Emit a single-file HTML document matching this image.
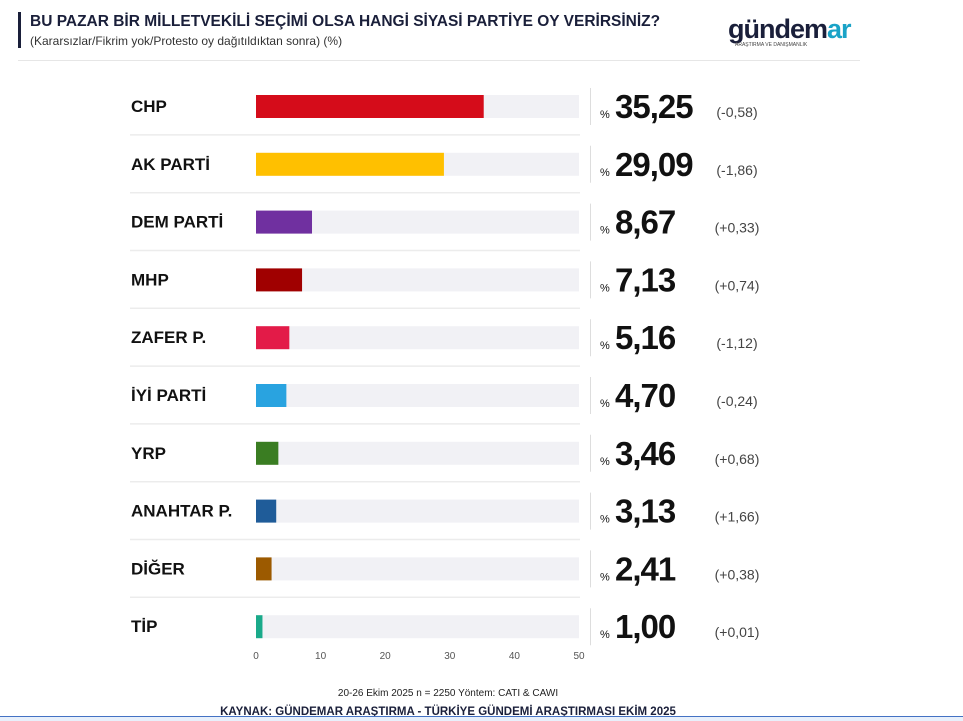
<!DOCTYPE html>
<html><head><meta charset="utf-8"><style>
body{margin:0;background:#fff;}
svg{display:block;font-family:"Liberation Sans",sans-serif;}
</style></head><body>
<svg id="c" width="963" height="721">
<rect x="18" y="12" width="3" height="36" fill="#1a1f3a"/>
<text x="30" y="26" font-size="15.5" font-weight="bold" fill="#1a1f3a">BU PAZAR BİR MİLLETVEKİLİ SEÇİMİ OLSA HANGİ SİYASİ PARTİYE OY VERİRSİNİZ?</text>
<text x="30" y="45" font-size="12" fill="#333">(Kararsızlar/Fikrim yok/Protesto oy dağıtıldıktan sonra) (%)</text>
<text x="728" y="38" font-size="27" font-weight="bold" fill="#1a1f3a" letter-spacing="-1">gündem<tspan fill="#1aa3c7">ar</tspan></text>
<text x="735" y="46" font-size="5" fill="#444">ARAŞTIRMA VE DANIŞMANLIK</text>
<line x1="18" y1="60.5" x2="860" y2="60.5" stroke="#e6e6e6"/>
<g id="rows"></g>
<g id="ticks"></g>
<text x="448" y="696" font-size="10" fill="#222" text-anchor="middle">20-26 Ekim 2025 n = 2250 Yöntem: CATI &amp; CAWI</text>
<text x="448" y="715" font-size="11.5" font-weight="bold" fill="#1a1f3a" text-anchor="middle">KAYNAK: GÜNDEMAR ARAŞTIRMA - TÜRKİYE GÜNDEMİ ARAŞTIRMASI EKİM 2025</text>
<rect x="0" y="716" width="963" height="5" fill="#e8f0fb"/>
<line x1="0" y1="716.5" x2="963" y2="716.5" stroke="#4472c4"/>
</svg>
<script>
const parties=["CHP","AK PARTİ","DEM PARTİ","MHP","ZAFER P.","İYİ PARTİ","YRP","ANAHTAR P.","DİĞER","TİP"];
const values=[35.25,29.09,8.67,7.13,5.16,4.70,3.46,3.13,2.41,1.00];
const changes=["(-0,58)","(-1,86)","(+0,33)","(+0,74)","(-1,12)","(-0,24)","(+0,68)","(+1,66)","(+0,38)","(+0,01)"];
const colors=["#d50c1a","#ffc000","#7030a0","#a00000","#e31b48","#29a3e0","#3a7d22","#1f5c99","#9c5a00","#1aaa8a"];
const ticks=[0,10,20,30,40,50];
const NS="http://www.w3.org/2000/svg";
const x0=256,x1=579,xmax=50;
const xs=v=>x0+(x1-x0)*v/xmax;
const y0=106,step=57.8;
const ys=i=>y0+i*step;
function mk(tag,attrs,parent,text){const e=document.createElementNS(NS,tag);for(const k in attrs)e.setAttribute(k,attrs[k]);if(text!==undefined)e.textContent=text;parent.appendChild(e);return e;}
const rows=document.getElementById("rows");
parties.forEach((p,i)=>{
  const y=ys(i);
  const g=mk("g",{},rows);
  
  
  const lb=mk("text",{x:131,y:y+6,"font-size":17,"font-weight":"bold",fill:"#111"},g,p);
  
  
  const tr=mk("rect",{x:x0,y:y-11,width:x1-x0,height:23,fill:"#f1f1f5"},g);
  
  
  const b=mk("rect",{x:x0,y:y-11,width:xs(values[i])-x0,height:23,fill:colors[i]},g);
  
  
  const vl=mk("line",{x1:590.5,y1:y-18,x2:590.5,y2:y+19,stroke:"#ddd"},g);
  
  
  const pc=mk("text",{x:600,y:y+12,"font-size":11,fill:"#111"},g,"%");
  
  
  const v=mk("text",{x:615,y:y+12,"font-size":33,"font-weight":"bold",fill:"#111","letter-spacing":"-1"},g,values[i].toFixed(2).replace(".",","));
  
  
  const c=mk("text",{x:737,y:y+11,"font-size":14,fill:"#444","text-anchor":"middle"},g,changes[i]);
  
  
  if(i<parties.length-1){
    const s=mk("line",{x1:130,y1:y+step/2,x2:580,y2:y+step/2,stroke:"#ececec","stroke-width":1.5},g);
    
    
  }
});
const tg=document.getElementById("ticks");
ticks.forEach(t=>{
  const e=mk("text",{x:xs(t),y:659,"font-size":10,fill:"#555","text-anchor":"middle"},tg,t);
  
  
});
</script>
</body></html>
